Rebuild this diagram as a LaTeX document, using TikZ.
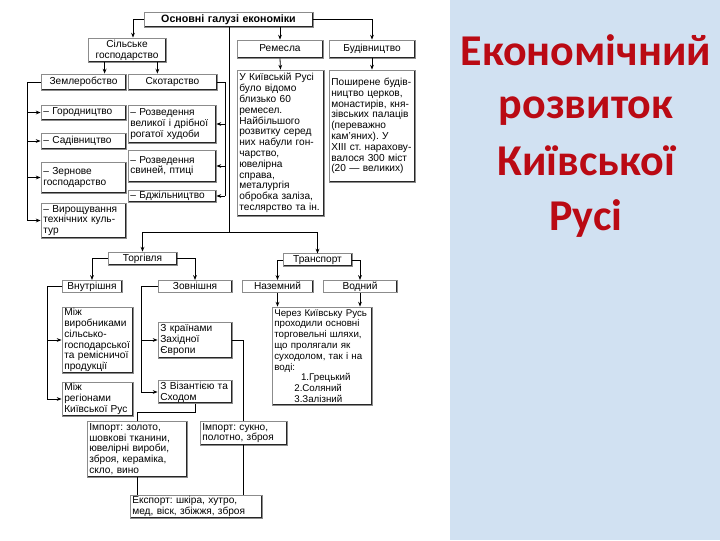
\documentclass[tikz,border=0pt]{standalone}
\usepackage{fontspec}
\setmainfont{Liberation Sans}
\newfontfamily\titlefont{Carlito}
\usetikzlibrary{arrows.meta, positioning, calc}
\definecolor{panelblue}{HTML}{D1E1F2}
\definecolor{titlered}{HTML}{BA0A14}
\frenchspacing
\tikzset{
  pbox/.style={draw=black!45, line width=0.6pt, inner xsep=1.5pt, inner ysep=1pt, align=left,
    font=\fontsize{7.6}{8.1}\selectfont,
    path picture={\draw[black!85, line width=1.6pt]
      (path picture bounding box.north east) -- (path picture bounding box.south east)
      -- (path picture bounding box.south west);}},
  plabel/.style={pbox, align=center, font=\fontsize{7.6}{8.4}\selectfont,
    text height=5.5pt, text depth=1.7pt},
  arr/.style={-{Stealth[length=3.6pt, width=2.8pt]}, line width=0.6pt},
  ln/.style={line width=0.6pt},
  titletext/.style={font=\titlefont\bfseries\fontsize{33}{40}\selectfont,
    text=titlered, anchor=base}
}
% box from its corners (in px of the picture)
\newcommand\pbx[7][pbox]{%
  \node[#1, minimum width={(#5-#3)*0.75pt}, minimum height={(#6-#4)*0.75pt},
    text width={(#5-#3)*0.75pt-3.5pt}] (#2) at ({(#3+#5)/2},{(#4+#6)/2}) {#7};}
\begin{document}
\begin{tikzpicture}[x=0.75pt, y=-0.75pt]
\useasboundingbox (0,0) rectangle (720,540);
\fill[panelblue] (450,0) rectangle (720,540);
\foreach \word/\y [count=\i] in {Економічний/65, розвиток/118, Київської/175, Русі/230}
  \node[titletext] (title\i) at (586,\y) {\word};

% upper part
\pbx[plabel, font=\bfseries\fontsize{8}{9}\selectfont]{osn}{144}{12}{313}{27}{Основні галузі економіки}
\pbx[pbox, align=center]{silske}{88}{38}{166}{62}{Сільське\\господарство}
\pbx[plabel]{zemle}{41}{74}{126}{90}{Землеробство}
\pbx[plabel]{skot}{128}{74}{217}{90}{Скотарство}
\pbx{gorod}{41}{105}{126}{120}{-- Городництво}
\pbx{rozv1}{128}{105}{216}{143}{-- Розведення\\великої і дрібної\\рогатої худоби}
\pbx{sadiv}{41}{133}{126}{149}{-- Садівництво}
\pbx{rozv2}{128}{150}{216}{182}{-- Розведення\\свиней, птиці}
\pbx{zern}{41}{162}{126}{193}{-- Зернове\\господарство}
\pbx{bdzh}{128}{190}{216}{202}{-- Бджільництво}
\pbx{vyr}{41}{203}{126}{238}{-- Вирощування\\технічних куль-\\тур}
\pbx[plabel]{remesla}{237}{40}{323}{58}{Ремесла}
\pbx[plabel]{budiv}{329}{40}{415}{58}{Будівництво}
\pbx{remdesc}{237}{70}{324}{216}{У Київській Русі\\було відомо\\близько 60\\ремесел.\\Найбільшого\\розвитку серед\\них набули гон-\\чарство,\\ювелірна\\справа,\\металургія\\обробка заліза,\\теслярство та ін.}
\pbx{buddesc}{329}{70}{415}{182}{Поширене будів-\\ництво церков,\\монастирів, кня-\\зівських палаців\\(переважно\\кам'яних). У\\XIII ст. нарахову-\\валося 300 міст\\(20 — великих)}

% lower part
\pbx[plabel]{torg}{108}{252}{177}{265}{Торгівля}
\pbx[plabel]{transp}{283}{254}{352}{266}{Транспорт}
\pbx[plabel]{vnutr}{62}{281}{122}{292}{Внутрішня}
\pbx[plabel]{zovn}{158}{281}{232}{292}{Зовнішня}
\pbx[plabel]{nazem}{242}{281}{313}{292}{Наземний}
\pbx[plabel]{vodn}{323}{281}{397}{292}{Водний}
\pbx{mizhvyr}{62}{307}{133}{373}{Між\\виробниками\\сільсько-\\господарської\\та ремісничої\\продукції}
\pbx{mizhreg}{62}{382}{133}{416}{Між\\регіонами\\Київської Рус}
\pbx{zkrain}{158}{322}{232}{358}{З країнами\\Західної\\Європи}
\pbx{zviz}{158}{382}{232}{402}{З Візантією та\\Сходом}
\pbx[pbox, font=\fontsize{7.3}{8.1}\selectfont]{shlyakhy}{272}{307}{372}{405}{Через Київську Русь\\проходили основні\\торговельні шляхи,\\що пролягали як\\суходолом, так і на\\воді:\\\hspace*{20pt}1.Грецький\\\hspace*{15pt}2.Соляний\\\hspace*{15pt}3.Залізний}
\pbx{imzoloto}{87}{421}{187}{477}{Імпорт: золото,\\шовкові тканини,\\ювелірні вироби,\\зброя, кераміка,\\скло, вино}
\pbx{imsukno}{200}{421}{287}{445}{Імпорт: сукно,\\полотно, зброя}
\pbx{eksport}{130}{495}{262}{518}{Експорт: шкіра, хутро,\\мед, віск, збіжжя, зброя}

\coordinate (hub) at (229,232);
\coordinate (lrail) at (27,0);
\coordinate (rrail) at (225,0);
\coordinate (vrail) at (47,0);
\coordinate (zrail) at (141,0);

\draw[arr] (osn.west) -| ([xshift=4.5pt]silske.north);
\draw[arr] (osn.south -| remesla.north) -- (remesla.north);
\draw[arr] (osn.east) -| (budiv.north);
\draw[ln] (osn.south -| hub) -- (hub);
\draw[arr] (hub) -| (torg.north);
\draw[arr] (hub) -| (transp.north);
\draw[arr] ([xshift=12.75pt]silske.south west) -- ([xshift=12.75pt]silske.south west |- zemle.north);
\draw[arr] ([xshift=-6.75pt]silske.south east) -- ([xshift=-6.75pt]silske.south east |- skot.north);
\draw[ln] (zemle.west) -| (lrail |- vyr.west);
\foreach \n in {gorod, sadiv, zern, vyr}
  \draw[arr] (lrail |- \n.west) -- (\n.west);
\draw[ln] (skot.east) -| (rrail |- bdzh.east);
\foreach \n in {rozv1, rozv2, bdzh}
  \draw[arr] (rrail |- \n.east) -- (\n.east);
\draw[arr] (remesla.south) -- (remdesc.north);
\draw[arr] (budiv.south) -- (buddesc.north);

\draw[arr] (torg.west) -| (vnutr.north);
\draw[arr] (torg.east) -| (zovn.north);
\draw[arr] (transp.west) -| (nazem.north);
\draw[arr] (transp.east) -| (vodn.north);
\draw[arr] (nazem.south) -- (nazem.south |- shlyakhy.north);
\draw[arr] (vodn.south) -- (vodn.south |- shlyakhy.north);
\draw[ln] (vnutr.west) -| (vrail |- mizhreg.west);
\foreach \n in {mizhvyr, mizhreg}
  \draw[arr] (vrail |- \n.west) -- (\n.west);
\draw[ln] (zovn.west) -| (zrail |- zviz.west);
\foreach \n in {zkrain, zviz}
  \draw[arr] (zrail |- \n.west) -- (\n.west);
\draw[ln] (zkrain.east) -| (imsukno.north);
\draw[ln] (zviz.south) |- ($(zviz.south)!0.5!(imzoloto.north)$) -| (imzoloto.north);
\draw[ln] (imzoloto.south) -- (imzoloto.south |- eksport.north);
\draw[ln] (imsukno.south) -- (imsukno.south |- eksport.north);
\end{tikzpicture}
\end{document}
